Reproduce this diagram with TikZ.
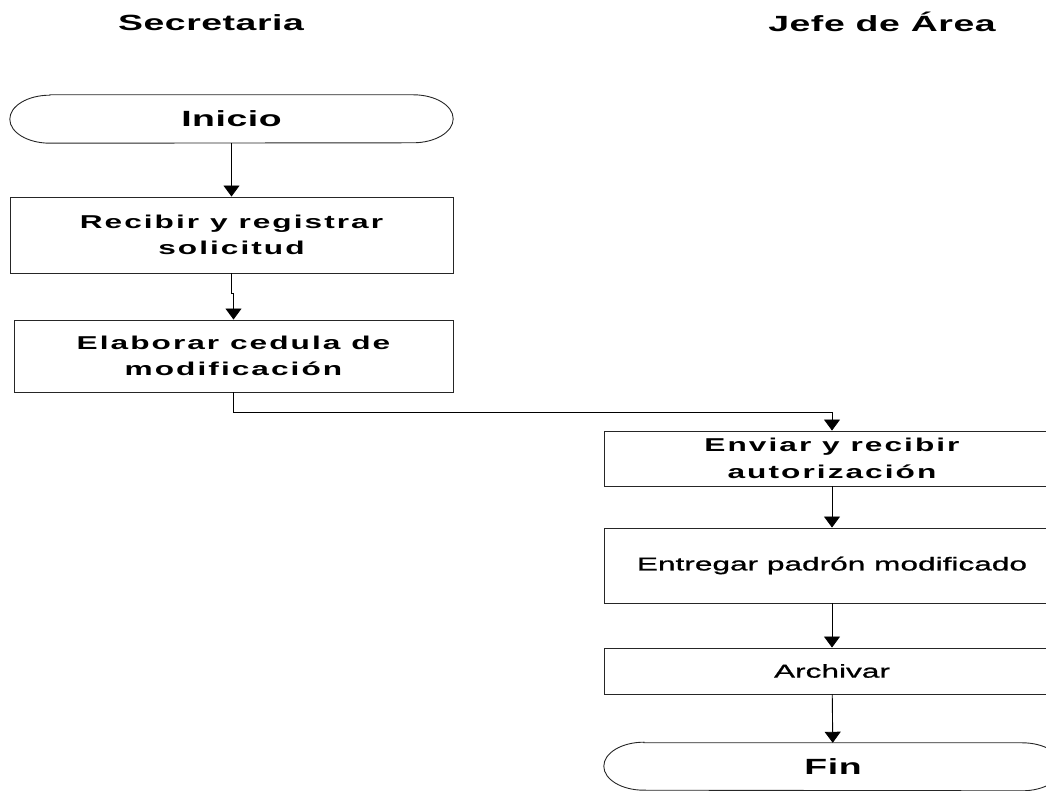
\documentclass[tikz,border=0pt]{standalone}
\usepackage{fontspec}
\setmainfont{Liberation Sans}
\newfontfamily\headfont{Liberation Sans}[FakeStretch=1.7, LetterSpace=2.5]
\newfontfamily\wideboxfont{Liberation Sans}[FakeStretch=1.7, LetterSpace=11]
\newfontfamily\boxfont{Liberation Sans}[FakeStretch=1.7, FakeBold=1]
\usetikzlibrary{arrows.meta}

\tikzset{
  boxline/.style={draw=black!85, line width=0.9pt},
  flow/.style={black, line width=0.9pt, -{Triangle[width=16pt, length=11pt]}},
  heading/.style={anchor=base, font=\headfont\bfseries\fontsize{22}{26}\selectfont},
  terminal/.style={inner sep=0pt, minimum height=48pt},
  procbox/.style={boxline, inner sep=0pt, align=center},
}
\newcommand{\termn}{\node[terminal]}
\newcommand{\pn}{\node[procbox]}
% outline of a terminal node, elliptical ends
\newcommand{\termline}[1]{%
  \draw[boxline] ([xshift=40pt]#1.north west) -- ([xshift=-40pt]#1.north east)
    arc[start angle=90, end angle=-90, x radius=40pt, y radius=24pt]
    -- ([xshift=40pt]#1.south west)
    arc[start angle=270, end angle=90, x radius=40pt, y radius=24pt] -- cycle;}

\begin{document}
\begin{tikzpicture}[x=1pt, y=1pt]
            \useasboundingbox (0,0) rectangle (1046,791);
            \clip (0,0) rectangle (1046,791);

            \node[heading] (hsec) at (211, 760) {Secretaria};
            \node[heading] (hjefe) at (882, 759) {Jefe de Área};

            \termn[minimum width=443pt, font=\headfont\bfseries\fontsize{22}{26}\selectfont] (inicio) at (231.5, 672) {Inicio};
            \pn[minimum width=443pt, minimum height=76pt, font=\wideboxfont\bfseries\fontsize{18.6}{26}\selectfont] (recibir) at (231.5, 556) {Recibir y registrar\\solicitud};
            \pn[minimum width=439pt, minimum height=72pt, font=\wideboxfont\bfseries\fontsize{18.6}{26}\selectfont] (elaborar) at (233.5, 435) {Elaborar cedula de\\modificación};
            \pn[minimum width=456pt, minimum height=55pt, font=\wideboxfont\bfseries\fontsize{18.6}{26.6}\selectfont] (enviar) at (832, 332.5) {Enviar y recibir\\autorización};
            \pn[minimum width=456pt, minimum height=75pt, font=\boxfont\fontsize{18.6}{26}\selectfont] (entregar) at (832, 225.5) {Entregar padrón modificado};
            \pn[minimum width=456pt, minimum height=46pt, font=\boxfont\fontsize{18.6}{26}\selectfont] (archivar) at (832, 120) {Archivar};
            \termn[minimum width=458pt, minimum height=47pt, font=\headfont\bfseries\fontsize{22}{26}\selectfont] (fin) at (833, 24.5) {Fin};

            \termline{inicio}
            \termline{fin}

            \draw[flow]
                (inicio) -- (recibir);
            \draw[flow]
                (recibir.south) -- ++(0,-20) -| (elaborar.north);
            \draw[flow]
                (elaborar.south) -- ++(0,-20) -| (enviar.north);
            \draw[flow]
                (enviar) -- (entregar);
            \draw[flow]
                (entregar) -- (archivar);
            \draw[flow]
                (archivar) -- (fin);

        \end{tikzpicture}
\end{document}
